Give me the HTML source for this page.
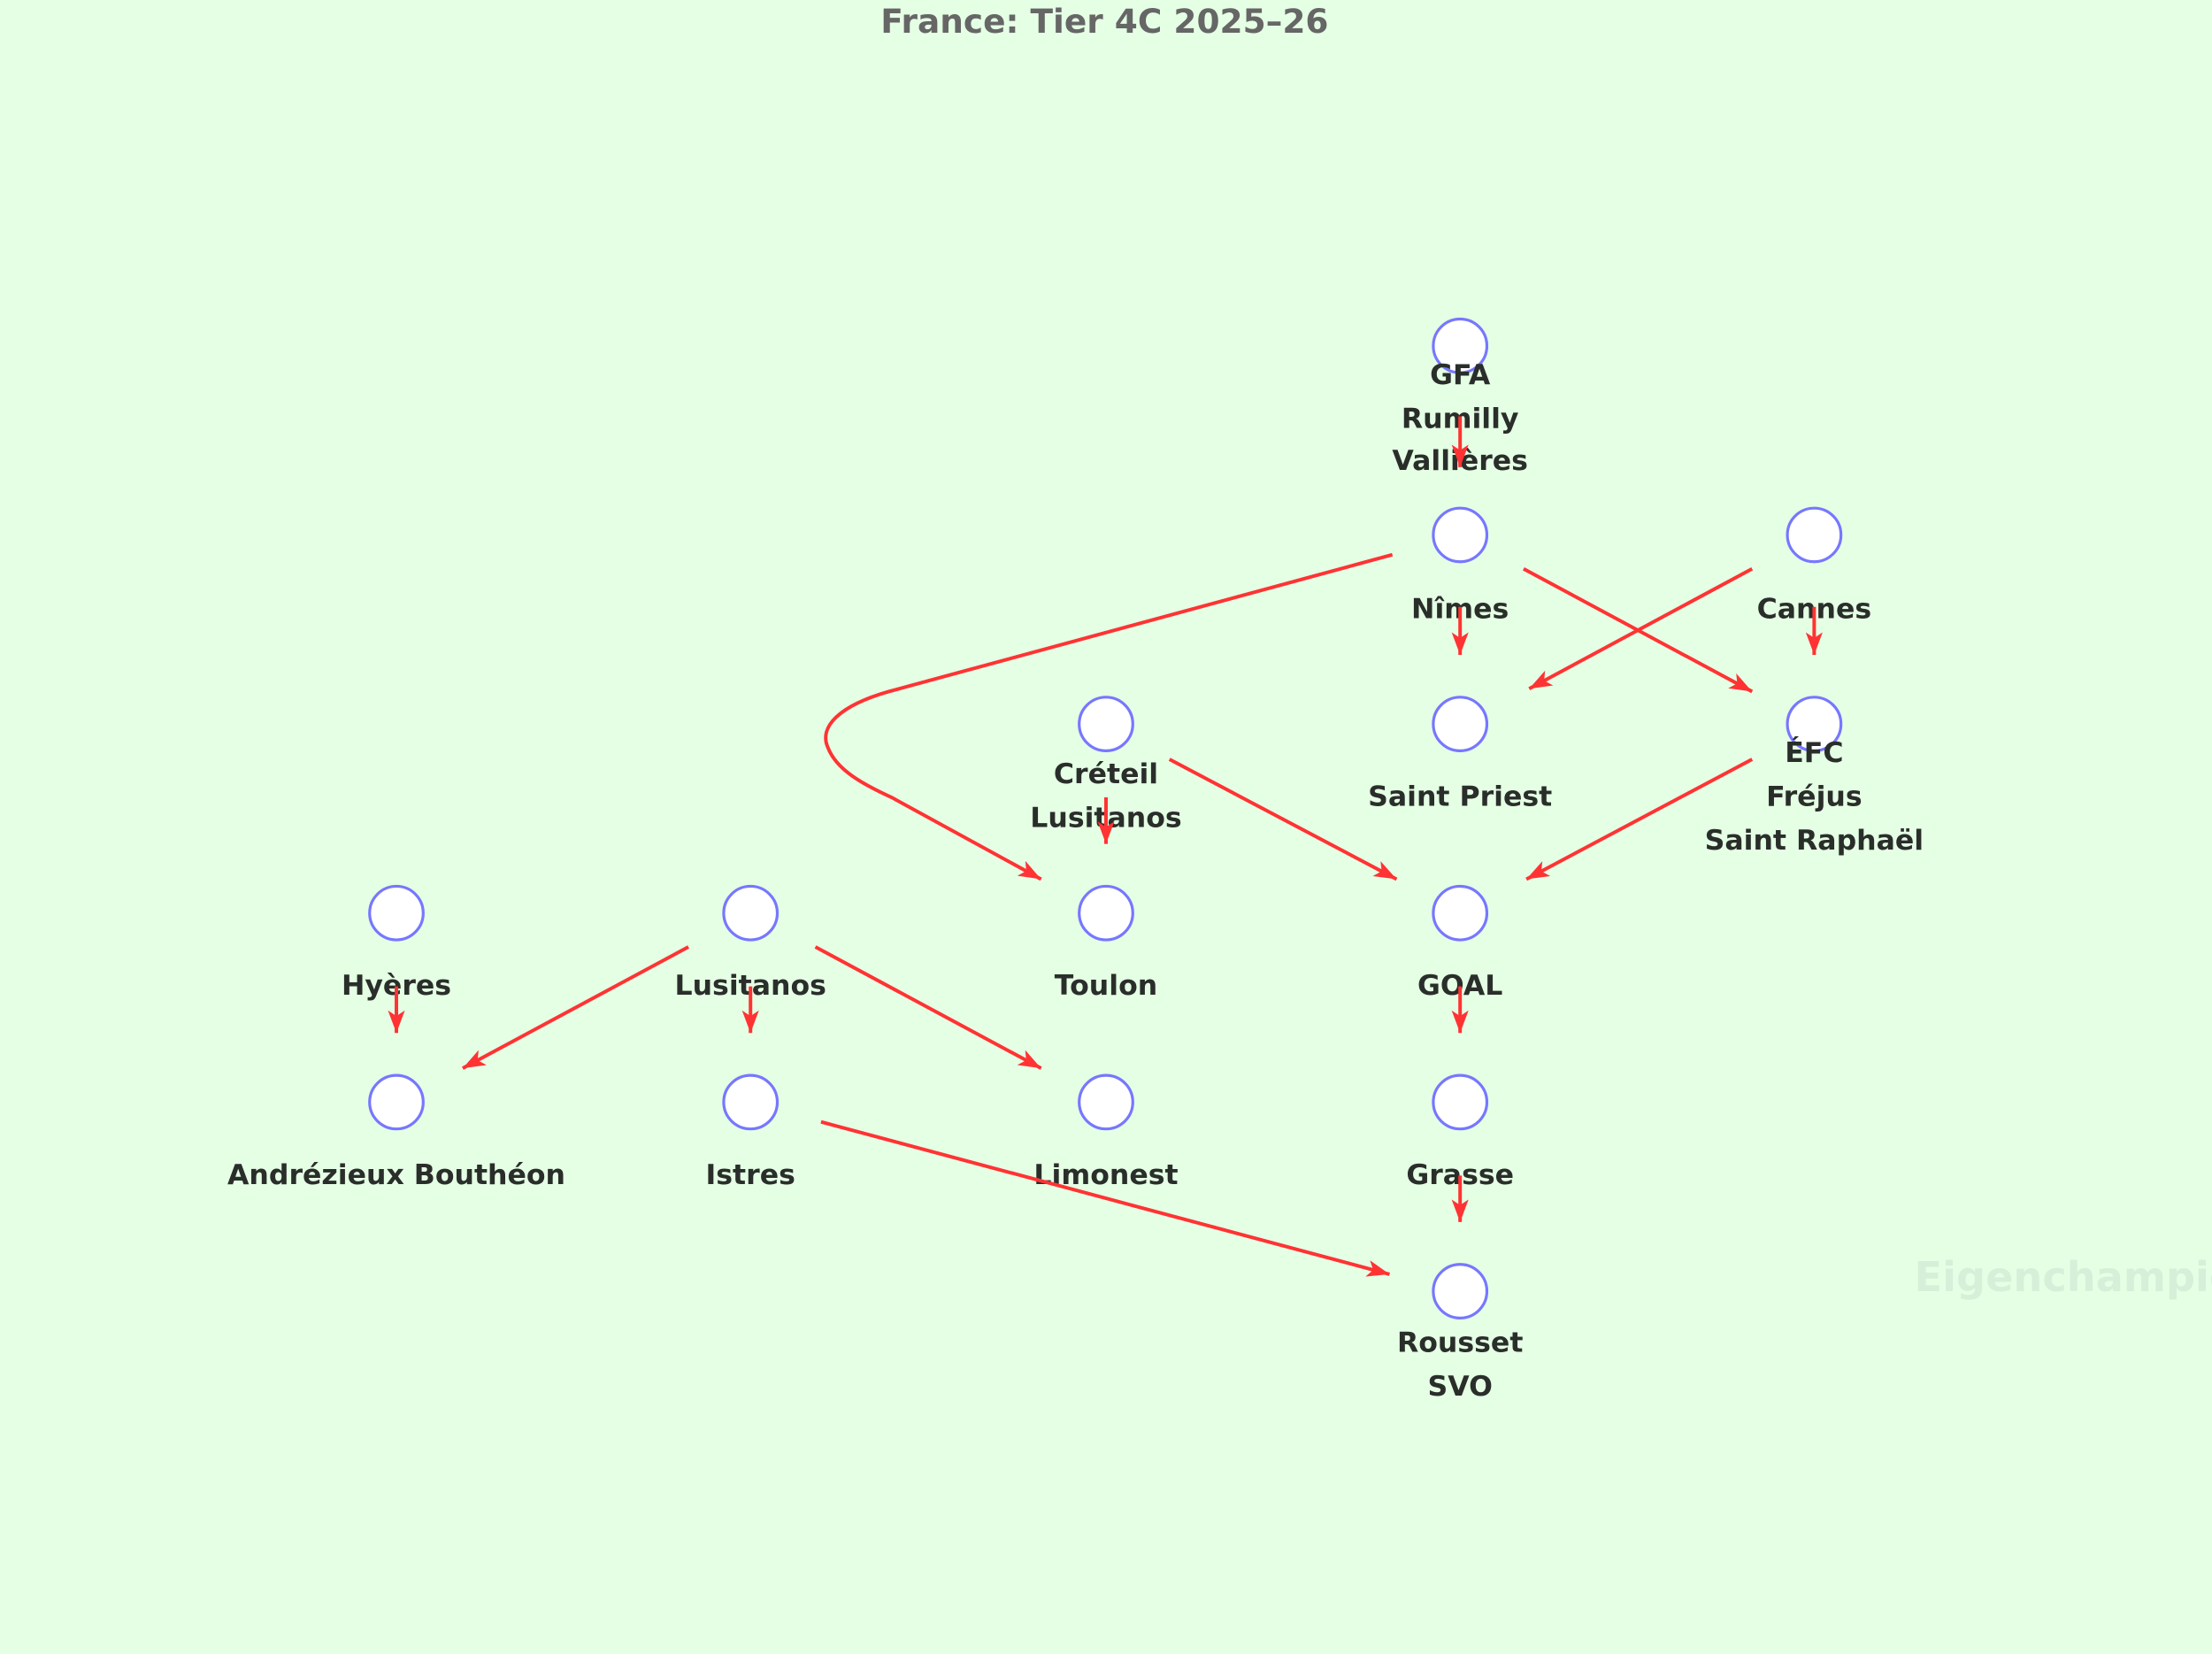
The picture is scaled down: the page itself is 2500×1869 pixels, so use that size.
<!DOCTYPE html>
<html><head><meta charset="utf-8"><style>html,body{margin:0;padding:0;background:#e5ffe5}svg{display:block}</style></head>
<body>
<svg width="2500" height="1869" viewBox="0 0 1568 1172" xmlns="http://www.w3.org/2000/svg">
<defs><marker id="a" markerWidth="16" markerHeight="12" refX="16" refY="6" orient="auto" markerUnits="userSpaceOnUse"><path d="M0,0 L16,6 L0,12 L4,6 Z" fill="#ff3333"/></marker></defs>
<rect width="1568" height="1172" fill="#e5ffe5"/>
<text x="783" y="23" font-family="DejaVu Sans, Liberation Sans, sans-serif" font-weight="bold" font-size="23.5" fill="#666" text-anchor="middle">France: Tier 4C 2025–26</text>
<text x="1357" y="915" font-family="DejaVu Sans, Liberation Sans, sans-serif" font-weight="bold" font-size="29" fill="#d6efd8">Eigenchampions</text>
<g fill="#fff" stroke="#7777ff" stroke-width="2">
<circle cx="1035" cy="245" r="19"/><circle cx="1035" cy="379" r="19"/><circle cx="1286" cy="379" r="19"/>
<circle cx="1035" cy="513" r="19"/><circle cx="1286" cy="513" r="19"/><circle cx="784" cy="513" r="19"/>
<circle cx="784" cy="647" r="19"/><circle cx="1035" cy="647" r="19"/><circle cx="281" cy="647" r="19"/><circle cx="532" cy="647" r="19"/>
<circle cx="281" cy="781" r="19"/><circle cx="532" cy="781" r="19"/><circle cx="784" cy="781" r="19"/><circle cx="1035" cy="781" r="19"/>
<circle cx="1035" cy="915" r="19"/>
</g>
<g font-family="DejaVu Sans, Liberation Sans, sans-serif" font-weight="bold" font-size="19.8" fill="#2a2e2a" text-anchor="middle">
<text x="1035" y="272">GFA</text><text x="1035" y="303">Rumilly</text><text x="1035" y="333">Vallières</text>
<text x="1035" y="438">Nîmes</text><text x="1286" y="438">Cannes</text>
<text x="1035" y="571">Saint Priest</text>
<text x="1286" y="540">ÉFC</text><text x="1286" y="571">Fréjus</text><text x="1286" y="602">Saint Raphaël</text>
<text x="784" y="555">Créteil</text><text x="784" y="586">Lusitanos</text>
<text x="784" y="705">Toulon</text><text x="1035" y="705">GOAL</text><text x="281" y="705">Hyères</text><text x="532" y="705">Lusitanos</text>
<text x="281" y="839">Andrézieux Bouthéon</text><text x="532" y="839">Istres</text><text x="784" y="839">Limonest</text><text x="1035" y="839">Grasse</text>
<text x="1035" y="958">Rousset</text><text x="1035" y="989">SVO</text>
</g>
<g stroke="#ff3333" stroke-width="2.5" fill="none" marker-end="url(#a)">
<line x1="1035" y1="295" x2="1035" y2="331"/>
<line x1="1035" y1="430" x2="1035" y2="464"/>
<line x1="1286" y1="430" x2="1286" y2="464"/>
<line x1="1080" y1="403" x2="1242" y2="490"/>
<line x1="1242" y1="403" x2="1084" y2="488"/>
<path d="M987,393 L630,490 C595,500 580,515 587,530 C593,545 610,555 632,565 L738,623"/>
<line x1="784" y1="565" x2="784" y2="598"/>
<line x1="829" y1="538" x2="990" y2="623"/>
<line x1="1242" y1="538" x2="1082" y2="623"/>
<line x1="281" y1="699" x2="281" y2="732"/>
<line x1="488" y1="671" x2="328" y2="757"/>
<line x1="532" y1="699" x2="532" y2="732"/>
<line x1="578" y1="671" x2="738" y2="757"/>
<line x1="1035" y1="699" x2="1035" y2="732"/>
<line x1="1035" y1="833" x2="1035" y2="866"/>
<line x1="582" y1="795" x2="985" y2="903"/>
</g>
</svg>
</body></html>
